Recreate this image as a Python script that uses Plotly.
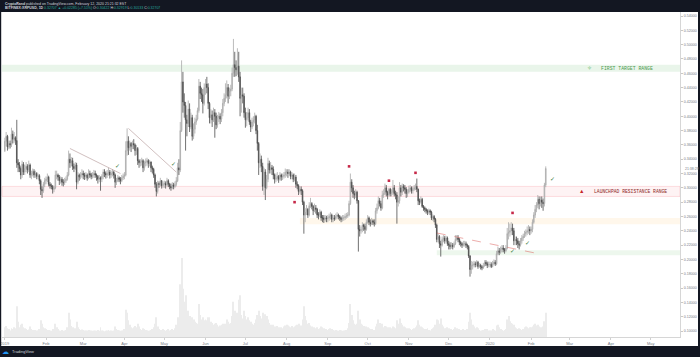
import pandas as pd
import plotly.graph_objects as go

# ---------------- data ----------------
start_date = "2019-01-01"
first_open = 0.352

closes = [
    # Jan 2019
    0.365,0.372,0.357,0.362,0.360,0.375,0.368,0.370,0.366,0.335,
    0.332,0.327,0.318,0.333,0.322,0.327,0.330,0.325,0.332,0.318,
    0.320,0.323,0.318,0.320,0.316,0.317,0.310,0.298,0.296,0.305,
    0.310,
    # Feb 2019
    0.312,0.315,0.305,0.303,0.302,0.298,0.300,0.318,0.318,0.315,
    0.310,0.312,0.308,0.307,0.310,0.312,0.318,0.340,0.335,0.338,
    0.330,0.327,0.332,0.308,0.318,0.315,0.318,0.320,
    # Mar 2019
    0.318,0.316,0.318,0.314,0.320,0.318,0.316,0.318,0.320,0.318,
    0.316,0.312,0.314,0.312,0.316,0.322,0.320,0.318,0.320,0.322,
    0.318,0.320,0.322,0.318,0.308,0.310,0.314,0.312,0.310,0.314,
    0.316,
    # Apr 2019
    0.318,0.352,0.365,0.356,0.362,0.358,0.362,0.360,0.352,0.355,
    0.338,0.335,0.336,0.338,0.328,0.335,0.336,0.338,0.334,0.336,
    0.328,0.326,0.318,0.305,0.295,0.306,0.305,0.310,0.303,0.306,
    # May 2019
    0.306,0.304,0.310,0.305,0.302,0.300,0.304,0.302,0.305,0.310,
    0.328,0.325,0.380,0.448,0.420,0.415,0.395,0.390,0.410,0.385,
    0.398,0.372,0.382,0.392,0.396,0.408,0.442,0.432,0.430,0.418,
    0.440,
    # Jun 2019
    0.445,0.440,0.418,0.398,0.402,0.395,0.405,0.400,0.388,0.398,
    0.400,0.396,0.405,0.418,0.425,0.430,0.440,0.428,0.435,0.438,
    0.460,0.472,0.468,0.465,0.470,0.455,0.425,0.430,0.428,0.405,
    # Jul 2019
    0.395,0.398,0.405,0.392,0.385,0.392,0.395,0.400,0.380,0.362,
    0.335,0.340,0.330,0.302,0.322,0.300,0.312,0.334,0.325,0.328,
    0.326,0.318,0.312,0.314,0.316,0.312,0.318,0.315,0.316,0.318,
    0.322,
    # Aug 2019
    0.322,0.320,0.322,0.316,0.318,0.312,0.315,0.305,0.303,0.295,
    0.298,0.296,0.280,0.262,0.266,0.270,0.262,0.275,0.278,0.274,
    0.268,0.272,0.270,0.262,0.262,0.266,0.258,0.258,0.256,0.258,
    0.257,
    # Sep 2019
    0.258,0.260,0.262,0.256,0.258,0.257,0.260,0.262,0.260,0.258,
    0.256,0.258,0.258,0.260,0.261,0.262,0.278,0.308,0.300,0.292,
    0.290,0.294,0.282,0.242,0.240,0.242,0.248,0.246,0.242,0.252,
    # Oct 2019
    0.258,0.252,0.250,0.254,0.252,0.250,0.268,0.272,0.282,0.278,
    0.272,0.290,0.292,0.300,0.294,0.290,0.298,0.292,0.294,0.300,
    0.292,0.290,0.280,0.282,0.300,0.294,0.302,0.300,0.298,0.292,
    0.294,
    # Nov 2019
    0.298,0.300,0.296,0.298,0.300,0.302,0.298,0.282,0.280,0.284,
    0.274,0.272,0.270,0.268,0.266,0.268,0.266,0.258,0.260,0.256,
    0.248,0.228,0.232,0.222,0.220,0.228,0.230,0.226,0.230,0.222,
    # Dec 2019
    0.220,0.218,0.220,0.218,0.222,0.228,0.230,0.228,0.224,0.222,
    0.220,0.222,0.222,0.220,0.218,0.205,0.186,0.192,0.192,0.194,
    0.193,0.196,0.190,0.192,0.190,0.188,0.191,0.196,0.194,0.192,
    0.193,
    # Jan 2020
    0.193,0.190,0.194,0.196,0.194,0.208,0.212,0.210,0.214,0.216,
    0.214,0.212,0.216,0.236,0.238,0.240,0.244,0.240,0.226,0.228,
    0.226,0.222,0.220,0.226,0.230,0.232,0.236,0.238,0.240,0.242,
    0.240,
    # Feb 2020
    0.242,0.252,0.262,0.270,0.276,0.284,0.278,0.283,0.280,0.278,
    0.304,0.327,
]

highs = [
    # Jan 2019
    0.370,0.378,0.374,0.366,0.366,0.384,0.380,0.378,0.372,0.395,
    0.340,0.336,0.330,0.338,0.336,0.332,0.336,0.333,0.338,0.334,
    0.324,0.327,0.326,0.324,0.322,0.320,0.319,0.312,0.302,0.308,
    0.314,
    # Feb 2019
    0.316,0.320,0.317,0.308,0.306,0.304,0.303,0.324,0.324,0.320,
    0.318,0.316,0.315,0.312,0.314,0.316,0.322,0.352,0.348,0.343,
    0.342,0.334,0.336,0.335,0.322,0.320,0.322,0.326,
    # Mar 2019
    0.324,0.321,0.322,0.320,0.326,0.324,0.321,0.322,0.325,0.324,
    0.320,0.318,0.318,0.316,0.319,0.326,0.326,0.323,0.325,0.328,
    0.325,0.324,0.326,0.324,0.320,0.314,0.318,0.316,0.315,0.318,
    0.320,
    # Apr 2019
    0.322,0.365,0.383,0.372,0.366,0.364,0.366,0.368,0.362,0.360,
    0.357,0.340,0.340,0.342,0.340,0.338,0.341,0.342,0.340,0.339,
    0.337,0.331,0.328,0.320,0.308,0.310,0.309,0.314,0.311,0.309,
    # May 2019
    0.310,0.309,0.314,0.312,0.307,0.306,0.308,0.307,0.309,0.315,
    0.335,0.340,0.392,0.478,0.462,0.432,0.420,0.402,0.422,0.418,
    0.405,0.402,0.390,0.398,0.402,0.412,0.452,0.448,0.440,0.438,
    0.446,
    # Jun 2019
    0.452,0.455,0.446,0.420,0.410,0.408,0.412,0.410,0.405,0.402,
    0.406,0.404,0.410,0.424,0.432,0.446,0.450,0.445,0.440,0.444,
    0.468,0.508,0.490,0.478,0.495,0.490,0.462,0.440,0.440,0.432,
    # Jul 2019
    0.412,0.406,0.412,0.410,0.395,0.398,0.400,0.405,0.402,0.388,
    0.364,0.348,0.345,0.335,0.328,0.326,0.318,0.342,0.338,0.336,
    0.332,0.330,0.320,0.320,0.322,0.318,0.322,0.320,0.320,0.322,
    0.327,
    # Aug 2019
    0.326,0.326,0.326,0.324,0.322,0.320,0.320,0.318,0.309,0.305,
    0.302,0.302,0.298,0.282,0.272,0.276,0.272,0.280,0.286,0.280,
    0.276,0.278,0.276,0.272,0.266,0.270,0.268,0.262,0.262,0.262,
    0.261,
    # Sep 2019
    0.262,0.264,0.266,0.264,0.262,0.262,0.264,0.266,0.264,0.262,
    0.260,0.262,0.262,0.264,0.265,0.266,0.282,0.320,0.312,0.304,
    0.296,0.298,0.296,0.283,0.248,0.246,0.252,0.250,0.250,0.256,
    # Oct 2019
    0.262,0.260,0.256,0.258,0.256,0.256,0.272,0.278,0.288,0.286,
    0.282,0.296,0.298,0.306,0.304,0.296,0.300,0.300,0.298,0.311,
    0.304,0.296,0.294,0.288,0.308,0.304,0.306,0.305,0.304,0.301,
    0.298,
    # Nov 2019
    0.303,0.304,0.302,0.302,0.304,0.306,0.313,0.299,0.285,0.288,
    0.286,0.276,0.274,0.272,0.270,0.271,0.270,0.268,0.263,0.262,
    0.258,0.250,0.236,0.234,0.226,0.232,0.234,0.233,0.233,0.232,
    # Dec 2019
    0.226,0.224,0.224,0.223,0.225,0.234,0.234,0.234,0.230,0.226,
    0.224,0.226,0.226,0.225,0.222,0.220,0.206,0.198,0.197,0.198,
    0.197,0.199,0.198,0.195,0.194,0.192,0.195,0.199,0.199,0.197,
    0.197,
    # Jan 2020
    0.197,0.196,0.198,0.200,0.199,0.212,0.218,0.216,0.218,0.220,
    0.220,0.216,0.220,0.244,0.252,0.250,0.252,0.250,0.244,0.232,
    0.232,0.230,0.226,0.230,0.234,0.236,0.240,0.242,0.246,0.248,
    0.246,
    # Feb 2020
    0.246,0.256,0.266,0.276,0.280,0.290,0.288,0.288,0.288,0.285,
    0.307,0.330,
]

lows = [
    # Jan 2019
    0.350,0.358,0.352,0.354,0.355,0.357,0.362,0.363,0.360,0.328,
    0.322,0.322,0.312,0.314,0.318,0.318,0.322,0.320,0.322,0.314,
    0.312,0.316,0.314,0.314,0.312,0.312,0.305,0.290,0.286,0.293,
    0.301,
    # Feb 2019
    0.305,0.308,0.302,0.299,0.298,0.292,0.294,0.298,0.312,0.310,
    0.304,0.306,0.303,0.302,0.304,0.307,0.310,0.316,0.328,0.330,
    0.325,0.322,0.325,0.298,0.305,0.310,0.312,0.314,
    # Mar 2019
    0.312,0.311,0.312,0.310,0.312,0.314,0.312,0.313,0.314,0.314,
    0.310,0.306,0.308,0.296,0.308,0.312,0.315,0.313,0.314,0.317,
    0.313,0.314,0.316,0.313,0.300,0.304,0.308,0.308,0.305,0.308,
    0.311,
    # Apr 2019
    0.312,0.316,0.345,0.346,0.352,0.350,0.354,0.354,0.345,0.346,
    0.332,0.328,0.330,0.331,0.322,0.324,0.330,0.331,0.328,0.330,
    0.322,0.320,0.314,0.300,0.288,0.292,0.300,0.302,0.299,0.300,
    # May 2019
    0.300,0.299,0.302,0.301,0.298,0.296,0.298,0.298,0.300,0.302,
    0.308,0.318,0.322,0.378,0.405,0.398,0.352,0.372,0.385,0.378,
    0.382,0.366,0.368,0.376,0.388,0.394,0.405,0.424,0.420,0.404,
    0.415,
    # Jun 2019
    0.430,0.432,0.410,0.390,0.390,0.385,0.392,0.370,0.382,0.384,
    0.392,0.389,0.392,0.400,0.414,0.420,0.425,0.418,0.424,0.428,
    0.435,0.455,0.455,0.456,0.458,0.448,0.400,0.405,0.418,0.398,
    # Jul 2019
    0.384,0.386,0.394,0.388,0.378,0.382,0.386,0.390,0.375,0.352,
    0.318,0.328,0.322,0.296,0.290,0.283,0.298,0.308,0.320,0.320,
    0.318,0.312,0.306,0.308,0.310,0.307,0.310,0.310,0.311,0.313,
    0.314,
    # Aug 2019
    0.316,0.314,0.317,0.312,0.312,0.308,0.309,0.300,0.298,0.290,
    0.292,0.290,0.276,0.236,0.252,0.262,0.258,0.260,0.272,0.270,
    0.262,0.266,0.264,0.258,0.256,0.259,0.254,0.252,0.251,0.253,
    0.252,
    # Sep 2019
    0.252,0.254,0.256,0.252,0.252,0.254,0.255,0.257,0.256,0.254,
    0.252,0.253,0.254,0.255,0.257,0.258,0.260,0.276,0.294,0.286,
    0.284,0.286,0.278,0.211,0.232,0.236,0.238,0.240,0.236,0.240,
    # Oct 2019
    0.250,0.248,0.246,0.248,0.248,0.246,0.248,0.264,0.270,0.274,
    0.268,0.270,0.286,0.290,0.288,0.284,0.288,0.288,0.288,0.290,
    0.288,0.284,0.250,0.274,0.278,0.288,0.290,0.295,0.292,0.286,
    0.287,
    # Nov 2019
    0.292,0.294,0.292,0.292,0.296,0.297,0.294,0.276,0.276,0.278,
    0.272,0.268,0.266,0.264,0.262,0.263,0.262,0.255,0.254,0.252,
    0.244,0.224,0.224,0.216,0.204,0.218,0.224,0.222,0.224,0.219,
    # Dec 2019
    0.214,0.214,0.215,0.214,0.216,0.220,0.226,0.224,0.220,0.218,
    0.216,0.218,0.218,0.216,0.214,0.202,0.176,0.180,0.186,0.189,
    0.189,0.190,0.187,0.188,0.186,0.185,0.187,0.190,0.191,0.188,
    0.189,
    # Jan 2020
    0.189,0.188,0.189,0.192,0.191,0.192,0.206,0.206,0.208,0.210,
    0.210,0.208,0.210,0.214,0.228,0.232,0.234,0.234,0.220,0.220,
    0.220,0.216,0.214,0.218,0.222,0.226,0.230,0.232,0.234,0.236,
    0.234,
    # Feb 2020
    0.236,0.238,0.250,0.258,0.266,0.272,0.270,0.274,0.272,0.268,
    0.274,0.301,
]

volumes = [
    # Jan 2019
    22,25,20,18,15,20,18,22,20,70, 35,22,28,30,22,20,18,16,17,24,
    18,16,15,16,15,14,18,38,30,22, 20,
    # Feb 2019
    18,16,16,14,14,18,16,30,22,18, 15,14,16,14,15,16,22,55,40,25,
    22,18,20,35,22,18,16,17,
    # Mar 2019
    16,15,14,15,16,14,15,14,14,15, 14,16,14,22,15,14,13,14,15,16,
    14,15,14,15,24,18,16,15,14,15, 14,
    # Apr 2019
    18,62,55,38,28,22,20,22,25,22, 30,24,18,16,20,18,16,15,14,15,
    16,18,22,30,45,24,18,16,16,18,
    # May 2019
    16,14,16,18,15,16,18,16,20,28, 45,40,120,180,110,80,95,55,60,48,
    40,45,40,35,32,30,75,50,40,45, 38,
    # Jun 2019
    40,38,45,45,35,32,28,30,32,28, 24,26,28,30,28,30,40,35,30,32,
    48,80,60,48,55,85,95,50,42,60,
    # Jul 2019
    48,40,45,38,35,30,28,32,40,50, 60,48,42,55,50,52,48,40,32,28,
    26,28,24,22,25,22,20,22,20,24, 26,
    # Aug 2019
    28,26,24,22,25,22,24,26,28,30, 24,26,40,70,48,38,30,32,26,24,
    22,22,20,22,18,20,24,22,20,18, 18,
    # Sep 2019
    16,18,20,18,16,15,16,14,14,16, 15,14,15,14,16,20,32,75,50,38,
    30,28,30,60,40,30,28,25,22,24,
    # Oct 2019
    22,20,18,18,16,16,24,30,40,32, 28,30,22,25,24,22,20,22,20,24,
    22,20,38,30,42,32,28,24,22,20, 20,
    # Nov 2019
    20,18,16,18,20,22,26,38,28,24, 22,20,18,18,20,16,15,18,20,22,
    28,40,38,30,42,28,24,20,20,22,
    # Dec 2019
    20,18,18,16,18,22,20,18,18,16, 16,18,16,15,18,35,55,40,28,24,
    20,22,20,16,14,15,16,18,16,18, 15,
    # Jan 2020
    14,15,18,16,14,26,28,22,18,16, 14,16,18,40,48,36,32,30,28,22,
    20,18,20,18,16,18,22,24,22,20, 22,
    # Feb 2020
    22,24,28,30,26,28,24,22,22,24, 36,55,
]

x_tick_dates = ["2019-01-01", "2019-02-01", "2019-03-01", "2019-04-01", "2019-05-01",
                "2019-06-01", "2019-07-01", "2019-08-01", "2019-09-01", "2019-10-01",
                "2019-11-01", "2019-12-01", "2020-01-01", "2020-02-01", "2020-03-01",
                "2020-04-01", "2020-05-01"]
x_tick_labels = ["2019", "Feb", "Mar", "Apr", "May", "Jun", "Jul", "Aug", "Sep", "Oct",
                 "Nov", "Dec", "2020", "Feb", "Mar", "Apr", "May"]
price_ticks = [0.10, 0.12, 0.14, 0.16, 0.18, 0.20, 0.22, 0.24, 0.26, 0.28, 0.30, 0.32,
               0.34, 0.36, 0.38, 0.40, 0.42, 0.44, 0.46, 0.48, 0.50, 0.52, 0.54]
price_tick_labels = [f"{v:.5f}" for v in price_ticks]

marker_dates = ["2019-08-07", "2019-09-17", "2019-10-17", "2019-11-06", "2020-01-18"]
marker_prices = [0.280, 0.330, 0.310, 0.321, 0.265]
check_dates = ["2019-03-27", "2019-05-08", "2020-01-18", "2020-01-29", "2020-02-17"]
check_prices = [0.330, 0.332, 0.211, 0.222, 0.312]

# zones: (start date, low, high); first two span the full width
target_zone = (0.462, 0.472)
resistance_zone = (0.288, 0.302)
orange_zone = ("2019-08-11", 0.249, 0.258)
support_zone = ("2019-11-22", 0.206, 0.213)

trend_lines = [("2019-02-19", 0.355, "2019-03-29", 0.320),
               ("2019-04-04", 0.383, "2019-05-10", 0.322)]
dashed_line = ("2019-11-22", 0.237, "2020-02-04", 0.209)

x_range = ["2018-12-29 21:00", "2020-05-23"]
y_range = [0.0917, 0.5456]

# ---------------- figure ----------------
dates = pd.date_range(start_date, periods=len(closes), freq="D")
opens = [first_open] + closes[:-1]

W, H = 700, 357
ML, MR, MT, MB = 2, 20, 12, 20
PW, PH = W - ML - MR, H - MT - MB


def px(xp):
    return (xp - ML) / PW


def py(yp):
    return (H - MB - yp) / PH


DARK = "#131722"
fig = go.Figure()

fig.add_trace(go.Bar(
    x=dates, y=volumes, yaxis="y", marker=dict(color="#ececec", line=dict(width=0)),
    hoverinfo="skip", showlegend=False))

fig.add_trace(go.Candlestick(
    x=dates, open=opens, high=highs, low=lows, close=closes, yaxis="y2",
    increasing=dict(line=dict(color="#a9a9a9", width=0.8), fillcolor="#d6d6d6"),
    decreasing=dict(line=dict(color="#4d4d4d", width=0.8), fillcolor="#5a5a5a"),
    showlegend=False))

fig.add_trace(go.Scatter(
    x=marker_dates, y=marker_prices, yaxis="y2", mode="markers",
    marker=dict(symbol="square", size=2.6, color="#c62848"), showlegend=False))

fig.add_trace(go.Scatter(
    x=check_dates, y=check_prices, yaxis="y2", mode="text", text=["✓"] * len(check_dates),
    textfont=dict(size=6, color="#3b7a3e"), showlegend=False))

shapes = []
shapes.append(dict(type="rect", xref="paper", yref="y2", x0=0, x1=1,
                   y0=target_zone[0], y1=target_zone[1],
                   fillcolor="rgba(76,175,80,0.12)", line=dict(width=0), layer="below"))
shapes.append(dict(type="rect", xref="paper", yref="y2", x0=0, x1=1,
                   y0=resistance_zone[0], y1=resistance_zone[1],
                   fillcolor="rgba(242,54,69,0.06)",
                   line=dict(color="rgba(242,54,69,0.25)", width=0.6), layer="below"))
shapes.append(dict(type="rect", xref="x", yref="y2", x0=orange_zone[0], x1=x_range[1],
                   y0=orange_zone[1], y1=orange_zone[2],
                   fillcolor="rgba(255,152,0,0.08)", line=dict(width=0), layer="below"))
shapes.append(dict(type="rect", xref="x", yref="y2", x0=support_zone[0], x1=x_range[1],
                   y0=support_zone[1], y1=support_zone[2],
                   fillcolor="rgba(76,175,80,0.10)", line=dict(width=0), layer="below"))
for (d0, p0, d1, p1) in trend_lines:
    shapes.append(dict(type="line", xref="x", yref="y2", x0=d0, y0=p0, x1=d1, y1=p1,
                       line=dict(color="rgba(170,140,140,0.8)", width=0.7)))
shapes.append(dict(type="line", xref="x", yref="y2", x0=dashed_line[0], y0=dashed_line[1],
                   x1=dashed_line[2], y1=dashed_line[3],
                   line=dict(color="rgba(217,83,79,0.8)", width=0.6, dash="dash")))
# frame: header, footer, side strips
shapes.append(dict(type="rect", xref="paper", yref="paper", x0=px(0), x1=px(W),
                   y0=py(MT), y1=py(0), fillcolor=DARK, line=dict(width=0), layer="above"))
shapes.append(dict(type="rect", xref="paper", yref="paper", x0=px(0), x1=px(W),
                   y0=py(H), y1=py(346), fillcolor=DARK, line=dict(width=0), layer="above"))
shapes.append(dict(type="rect", xref="paper", yref="paper", x0=px(0), x1=px(1.2),
                   y0=py(346), y1=py(MT), fillcolor=DARK, line=dict(width=0), layer="above"))
shapes.append(dict(type="rect", xref="paper", yref="paper", x0=px(698), x1=px(W),
                   y0=py(346), y1=py(MT), fillcolor=DARK, line=dict(width=0), layer="above"))

annotations = [
    dict(xref="paper", yref="paper", x=px(3), y=py(3.6), xanchor="left", yanchor="middle",
         showarrow=False, font=dict(size=3.5, color="#d1d4dc", family="Liberation Sans"),
         text="<b>CryptoRand</b> published on TradingView.com, February 12, 2020 21:21:32 EST"),
    dict(xref="paper", yref="paper", x=px(3), y=py(8.4), xanchor="left", yanchor="middle",
         showarrow=False, font=dict(size=3.5, color="#d1d4dc", family="Liberation Sans"),
         text="<b>BITFINEX:XRPUSD, 1D</b> <span style='color:#26a69a'>0.32707 ▲ +0.02285 (+7.51%)</span>"
              " O:<span style='color:#26a69a'>0.30422</span> H:<span style='color:#26a69a'>0.32919</span>"
              " L:<span style='color:#26a69a'>0.30133</span> C:<span style='color:#26a69a'>0.32707</span>"),
    dict(xref="paper", yref="paper", x=px(5), y=py(351.5), xanchor="center", yanchor="middle",
         showarrow=False, font=dict(size=7, color="#2196f3"), text="☁"),
    dict(xref="paper", yref="paper", x=px(10), y=py(351.5), xanchor="left", yanchor="middle",
         showarrow=False, font=dict(size=4, color="#d1d4dc", family="Liberation Sans"),
         text="TradingView"),
    dict(xref="x", yref="y2", x="2020-03-16", y=sum(target_zone) / 2, xanchor="center",
         yanchor="middle", showarrow=False, font=dict(size=6, color="#4caf50"), text="✧"),
    dict(xref="x", yref="y2", x="2020-03-23", y=sum(target_zone) / 2, xanchor="left",
         yanchor="middle", showarrow=False,
         font=dict(size=4.8, color="#4a9a4e", family="Liberation Mono"),
         text="FIRST TARGET RANGE"),
    dict(xref="x", yref="y2", x="2020-03-10", y=sum(resistance_zone) / 2, xanchor="center",
         yanchor="middle", showarrow=False, font=dict(size=5.5, color="#c62828"), text="▲"),
    dict(xref="x", yref="y2", x="2020-03-18", y=sum(resistance_zone) / 2, xanchor="left",
         yanchor="middle", showarrow=False,
         font=dict(size=4.7, color="#8e1f1f", family="Liberation Mono"),
         text="LAUNCHPAD RESISTANCE RANGE"),
    dict(xref="paper", yref="y2", x=px(683), y=closes[-1] - 0.001, xanchor="left",
         yanchor="middle", showarrow=False,
         font=dict(size=3.5, color="#787b86", family="Liberation Sans"), text="21:38:29"),
]

fig.update_layout(
    width=W, height=H,
    margin=dict(l=ML, r=MR, t=MT, b=MB, pad=0, autoexpand=False),
    paper_bgcolor="white", plot_bgcolor="white",
    showlegend=False, bargap=0.3,
    shapes=shapes, annotations=annotations,
    xaxis=dict(type="date", range=x_range, rangeslider=dict(visible=False),
               tickmode="array", tickvals=x_tick_dates, ticktext=x_tick_labels,
               tickfont=dict(size=4, color="#787b86", family="Liberation Sans"),
               ticks="outside", ticklen=2, tickcolor="#d0d0d0",
               showline=True, linecolor="#d6d6d6", linewidth=1,
               showgrid=False, zeroline=False, fixedrange=True),
    yaxis=dict(range=[0, 740], visible=False, showgrid=False, fixedrange=True),
    yaxis2=dict(overlaying="y", side="right", anchor="x", range=y_range,
                tickmode="array", tickvals=price_ticks, ticktext=price_tick_labels,
                tickfont=dict(size=3.6, color="#787b86", family="Liberation Sans"),
                ticks="outside", ticklen=2, tickcolor="#c8c8c8",
                showline=True, linecolor="#d6d6d6", linewidth=1,
                showgrid=False, zeroline=False, fixedrange=True),
)

fig.write_html("out.html", config={"displayModeBar": False})
